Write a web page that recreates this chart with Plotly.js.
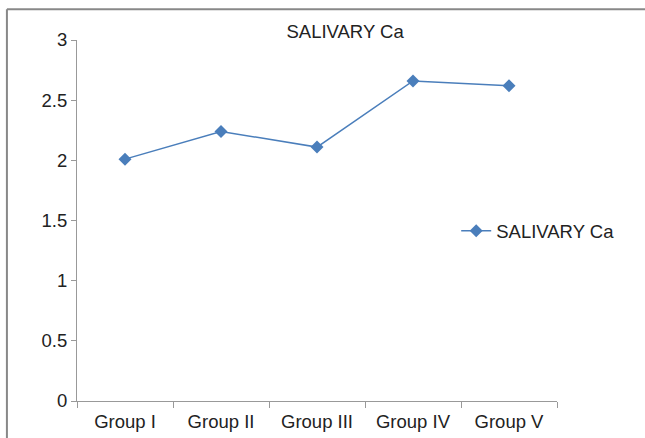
<!DOCTYPE html>
<html>
<head>
<meta charset="utf-8">
<script src="https://cdn.plot.ly/plotly-3.0.1.min.js"></script>
<style>html,body{margin:0;padding:0;background:#fff;}#chart{width:645px;height:438px;}</style>
</head>
<body>
<div id="chart"></div>
<script>
const categories = ["Group I", "Group II", "Group III", "Group IV", "Group V"];
const salivaryCa = [2.01, 2.24, 2.11, 2.66, 2.62];
const yTicks = [0, 0.5, 1, 1.5, 2, 2.5, 3];
const yTickLabels = ["0", "0.5", "1", "1.5", "2", "2.5", "3"];
const seriesName = "SALIVARY Ca";
const chartTitle = "SALIVARY Ca";

const trace = {
  x: categories,
  y: salivaryCa,
  type: "scatter",
  mode: "lines+markers",
  name: seriesName,
  line: {color: "#4a7ebb", width: 1.5},
  marker: {symbol: "diamond", size: 10, color: "#4a7ebb"}
};

const layout = {
  width: 645, height: 438,
  margin: {l: 77, r: 88, t: 40, b: 37},
  paper_bgcolor: "#fff", plot_bgcolor: "#fff",
  font: {family: "Liberation Sans, Arial, sans-serif", size: 18.5, color: "#222"},
  title: {text: chartTitle, x: 0.535, xanchor: "center", y: 0.928, yanchor: "middle", font: {size: 18.5, color: "#222"}},
  showlegend: true,
  legend: {x: 0.79, y: 0.47, xanchor: "left", yanchor: "middle", font: {size: 18.5, color: "#222"}, bgcolor: "rgba(0,0,0,0)"},
  xaxis: {
    type: "category", range: [-0.5, 4.5],
    showgrid: false, zeroline: false,
    showline: true, linecolor: "#999", linewidth: 1,
    ticks: "outside", ticklen: 6, tickcolor: "#999", tickson: "boundaries",
    ticklabelstandoff: 4,
    tickfont: {size: 18.5, color: "#222"}
  },
  yaxis: {
    range: [0, 3], tickvals: yTicks, ticktext: yTickLabels,
    showgrid: false, zeroline: false,
    showline: true, linecolor: "#999", linewidth: 1,
    ticks: "outside", ticklen: 5, tickcolor: "#999",
    tickfont: {size: 18.5, color: "#222"}
  },
  shapes: [
    {type: "line", xref: "paper", yref: "paper", x0: -0.146, x1: 1.2, y0: 1.085, y1: 1.085, line: {color: "#888", width: 2}},
    {type: "line", xref: "paper", yref: "paper", x0: -0.146, x1: -0.146, y0: 1.085, y1: -0.12, line: {color: "#888", width: 2}}
  ]
};

Plotly.newPlot("chart", [trace], layout, {displayModeBar: false, staticPlot: true});
</script>
</body>
</html>
